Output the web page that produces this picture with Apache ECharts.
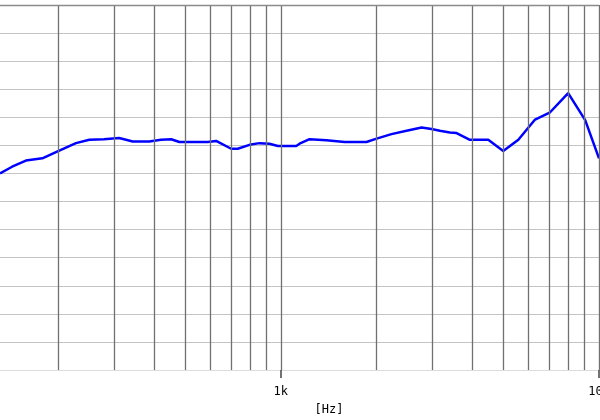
<!DOCTYPE html>
<html>
	<head>
		<meta charset="utf-8">
		<title>Frequency response</title>
		<script src="https://cdn.jsdelivr.net/npm/echarts@6/dist/echarts.min.js"></script>
		<style>
			html, body { margin: 0; padding: 0; background: #fff; }
		</style>
	</head>
	<body>
		<div id="main" style="width: 600px;height:420px;"></div>

		<script type="text/javascript">
			// frequency points [Hz] and level [dB]
			var freqs = [131, 143, 158, 178, 198, 227, 250, 278, 310, 326, 342, 386, 420, 452, 480, 589, 626,
				698, 732, 797, 857, 921, 978, 1118, 1145, 1231, 1390, 1587, 1858, 2000, 2227, 2483, 2769,
				2976, 3161, 3399, 3568, 3929, 4487, 5000, 5578, 6296, 7021, 8000, 9049, 10000];
			var levels = [75.0, 76.2, 77.3, 77.7, 78.9, 80.4, 81.0, 81.1, 81.3, 81.0, 80.7, 80.7, 81.0, 81.1, 80.6, 80.6, 80.8,
				79.4, 79.4, 80.1, 80.4, 80.3, 79.9, 79.9, 80.3, 81.1, 80.9, 80.6, 80.6, 81.2, 82.0, 82.6, 83.2,
				82.9, 82.6, 82.3, 82.2, 81.0, 81.0, 79.0, 81.0, 84.6, 85.9, 89.3, 84.5, 77.7];

			// vertical grid lines (1-2-3..9 per decade)
			var gridFreqs = [200, 300, 400, 500, 600, 700, 800, 900, 1000,
				2000, 3000, 4000, 5000, 6000, 7000, 8000, 9000, 10000];

			var points = freqs.map(function (f, i) { return [f, levels[i]]; });

			var myChart = echarts.init(document.getElementById('main'));

			var option = {
				animation: false,
				grid: {left: 0, right: 1, top: 5, bottom: 50, containLabel: false, outerBoundsMode: 'none'},
				xAxis: {
					type: 'log',
					logBase: 10,
					min: 131,
					max: 10000,
					name: '[Hz]',
					nameLocation: 'middle',
					nameGap: 34,
					nameTextStyle: {fontFamily: 'DejaVu Sans Mono', fontSize: 12, color: '#000', padding: [0, 0, 0, 59]},
					axisLine: {show: true, lineStyle: {color: '#dcdcdc', width: 1}},
					axisTick: {show: true, length: 8, lineStyle: {color: '#444', width: 1.5}},
					axisLabel: {
						showMinLabel: false,
						margin: 16,
						fontFamily: 'DejaVu Sans Mono',
						fontSize: 12,
						color: '#000',
						formatter: function (v) { return v >= 1000 ? (v / 1000) + 'k' : ''; }
					},
					splitLine: {show: false}
				},
				yAxis: {
					type: 'value',
					min: 40,
					max: 105,
					interval: 5,
					axisLine: {show: false},
					axisTick: {show: false},
					axisLabel: {show: false},
					splitLine: {show: true, lineStyle: {color: '#c4c4c4', width: 1.2}}
				},
				series: [
					{
						// grid lines only
						type: 'line',
						data: [],
						z: 1,
						markLine: {
							silent: true,
							symbol: 'none',
							label: {show: false},
							animation: false,
							lineStyle: {type: 'solid', color: '#707070', width: 1.3},
							data: gridFreqs.map(function (f) { return {xAxis: f}; })
								.concat([{yAxis: 105, lineStyle: {color: '#8a8a8a', type: 'solid', width: 1.3}}])
						}
					},
					{
						type: 'line',
						data: points,
						z: 3,
						showSymbol: false,
						symbol: 'none',
						lineStyle: {color: '#0000ff', width: 2.5}
					}
				]
			};

			myChart.setOption(option);
		</script>
	</body>
</html>
